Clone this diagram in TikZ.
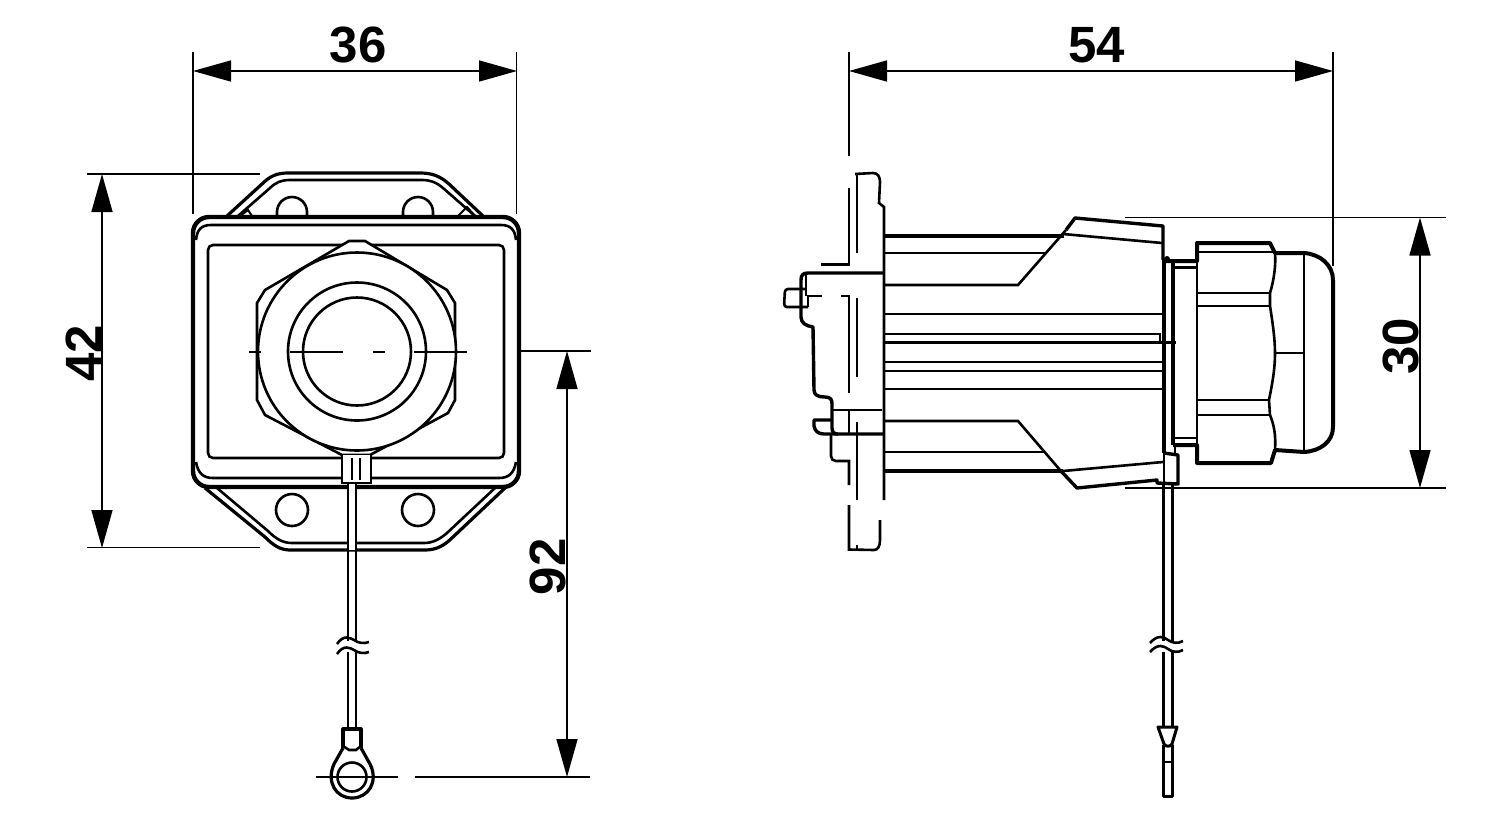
\documentclass[tikz,border=0pt]{standalone}
\usepackage{fontspec}
\setmainfont{Liberation Sans}
\usetikzlibrary{arrows.meta}
\tikzset{
  dimline/.style={line width=1.6pt,{Triangle[length=38pt,width=21pt]}-{Triangle[length=38pt,width=21pt]}},
  extline/.style={line width=1.6pt},
  dimtext/.style={inner sep=0pt,font=\fontsize{51}{51}\selectfont\bfseries},
  thinedge/.style={line width=2pt},
  midedge/.style={line width=2.6pt},
  thickedge/.style={line width=4pt,line join=round},
}
\begin{document}
\begin{tikzpicture}[x=1pt,y=-1pt]
    \useasboundingbox (0,0) rectangle (1500,820);
    % left view
    \coordinate (wl) at (193,71);
    \coordinate (wr) at (517,71);
    \coordinate (ht) at (102,174);
    \coordinate (hb) at (102,548);
    \coordinate (lt) at (567,351);
    \coordinate (lb) at (567,777);
    \draw[extline] (193,52) -- (193,214);
    \draw[extline] (516.5,52) -- (516.5,214);
    \draw[extline] (87,174) -- (260,174);
    \draw[extline] (87,547.5) -- (260,547.5);
    \draw[extline] (520,351) -- (591,351);
    \draw[extline] (415,777) -- (590,777);
    \draw[dimline] (wl) -- (wr) node[dimtext,pos=.51,above=7pt] (lblA) {36};
    \draw[dimline] (ht) -- (hb) node[dimtext,pos=.5,above=8pt,rotate=90] (lblB) {42};
    \draw[dimline] (lt) -- (lb) node[dimtext,pos=.525,above=8pt,rotate=90] (lblC) {92};

    % lugs
    \draw[thickedge,line width=3.2pt] (227,216) -- (262,184) .. controls (270,176) and (277,173) .. (288,173) -- (420,173) .. controls (432,173) and (440,176) .. (449,184) -- (483,216);
    \draw[midedge] (238,216) -- (270,188) .. controls (276,182) and (282,180) .. (290,180) -- (422,180) .. controls (430,180) and (436,182) .. (443,188) -- (475,216);
    \draw[thinedge] (240,216) -- (248,210) -- (252,216);
    \draw[thinedge] (458,216) -- (467,207) -- (475,216);
    \draw[midedge] (277,216) -- (277,212) arc (180:360:15) -- (307,216);
    \draw[midedge] (403,216) -- (403,212) arc (180:360:15) -- (433,216);
    \draw[thickedge,line width=3.2pt] (205,488) -- (265,537) .. controls (273,545) and (280,550) .. (290,550) -- (425,550) .. controls (437,550) and (445,545) .. (453,537) -- (505,488);
    \draw[midedge] (217,488) -- (268,531) .. controls (276,539) and (283,543) .. (292,543) -- (424,543) .. controls (433,543) and (440,539) .. (447,533) -- (495,488);
    \draw[midedge] (292,510) circle (16);
    \draw[midedge] (418,510) circle (16);

    % housing
    \draw[thickedge,fill=white,line width=4.4pt,rounded corners=16pt] (193,217) rectangle (519,487);
    \draw[midedge] (196,240) .. controls (197,230) and (201,225) .. (211,225) -- (501,225) .. controls (511,225) and (515,230) .. (516,240);
    \draw[midedge] (196,462) .. controls (198,473) and (203,478) .. (213,478) -- (499,478) .. controls (509,478) and (514,473) .. (516,462);
    \draw[midedge,rounded corners=5pt] (208,245) rectangle (504,458);

    % gland
    \draw[midedge,fill=white] (349,241) -- (365,241) -- (447,290) -- (455,303) -- (455,400) -- (448,413) -- (370,455) -- (342,455) -- (265,415) -- (257,400) -- (257,303) -- (265,290) -- cycle;
    \draw[midedge,fill=white] (357,351.5) circle (99);
    \draw[midedge] (357,351.5) circle (69);
    \draw[midedge] (357,351.5) circle (54);
    \foreach \xa/\xb in {249/261,290/343,373/385,414/467}
      \draw[thinedge] (\xa,351.5) -- (\xb,351.5);

    % cable with ring
    \draw[midedge,fill=white] (342,455) -- (342,483) -- (371,483) -- (371,455);
    \draw[thinedge] (352,458) -- (352,480);
    \draw[thinedge] (360,458) -- (360,480);
    \fill[white] (348,484) rectangle (356,550);
    \draw[midedge] (348,483) -- (348,641);
    \draw[midedge] (356,483) -- (356,641);
    \draw[midedge] (348,652) -- (348,729);
    \draw[midedge] (356,652) -- (356,729);
    \draw[midedge] (337,644) .. controls (344,634) and (350,638) .. (354,640) .. controls (358,643) and (364,644) .. (369,642);
    \draw[midedge] (337,654) .. controls (344,644) and (350,648) .. (354,650) .. controls (358,653) and (364,654) .. (369,652);
    \draw[thickedge,line width=3.2pt] (343,748) -- (343,729) -- (361,729) -- (361,748);
    \draw[midedge] (343,746) -- (349,750) -- (356,750) -- (361,746);
    \draw[thickedge,line width=3.2pt] (343,748) -- (334,764) .. controls (326,782) and (336,798) .. (352,798) .. controls (368,798) and (379,782) .. (370,764) -- (361,748);
    \draw[midedge] (352,777) circle (14.5);
    \draw[thinedge] (316,777) -- (398,777);

    % right view
    \coordinate (sl) at (849,71);
    \coordinate (sr) at (1333,71);
    \coordinate (dt) at (1420,217.5);
    \coordinate (db) at (1420,488);
    \draw[extline] (849,52) -- (849,156);
    \draw[extline] (1333,52) -- (1333,266);
    \draw[extline] (1125,217.5) -- (1446,217.5);
    \draw[extline] (1125,488) -- (1446,488);
    \draw[dimline] (sl) -- (sr) node[dimtext,pos=.512,above=7pt] (lblD) {54};
    \draw[dimline] (dt) -- (db) node[dimtext,pos=.505,above=8pt,rotate=90] (lblE) {30};

    % flange
    \draw[midedge] (855,174) -- (873,173) .. controls (878,173) and (880,177) .. (880,182) -- (879,203) -- (884,207) -- (884,500);
    \draw[midedge] (857,174) -- (857,253);
    \draw[midedge] (849,188) -- (849,264.5) -- (821,264.5);
    \draw[midedge] (822,296) -- (808,296) -- (808,307);
    \draw[midedge] (841,296) -- (849,296) -- (849,393);
    \draw[midedge] (857,298) -- (857,377);
    \draw[midedge] (849,410) -- (849,434);
    \draw[midedge] (857,422) -- (857,500);
    \draw[midedge] (832,410) -- (882,410);
    \draw[midedge] (849,505) -- (849,549.5) -- (874,550) .. controls (878,550) and (880,546) .. (880,540) -- (880,520);
    \draw[midedge] (857,545) -- (857,550);
    \draw[midedge] (831,434) -- (831,456) .. controls (831,459) and (833,461) .. (836,461) -- (849,461) -- (849,485);
    \draw[midedge,rounded corners=3pt] (806,289) -- (785,289) -- (784,307) -- (808,307);
    \draw[thickedge,line width=3.4pt] (883,273) -- (808,273) .. controls (803,273) and (801,275) .. (801,280) -- (801,317) .. controls (801,323) and (806,326) .. (813,327) -- (814,390) .. controls (814,395) and (818,397) .. (825,397) .. controls (831,397) and (832,400) .. (832,404) -- (832,428) .. controls (832,432) and (834,434) .. (838,434) -- (883,434);
    \draw[midedge] (806,275) -- (806,296);
    \draw[thickedge,line width=3.4pt] (832,420) -- (814,420) -- (814,426) .. controls (815,431) and (818,434) .. (824,434) -- (838,434);

    % body
    \draw[thickedge,line width=3.4pt] (884,236) -- (1064,236);
    \draw[midedge] (884,253) -- (1045,253);
    \draw[midedge] (884,285) -- (1018,285) -- (1066,230);
    \draw[thickedge,line width=3.4pt] (1066,230) -- (1075,218) -- (1163,226) -- (1163,260);
    \draw[midedge] (1063,234) -- (1162,243);
    \draw[midedge] (884,314) -- (1163,314);
    \draw[midedge] (885,334) -- (1160,334) -- (1160,343);
    \draw[midedge] (884,342.5) -- (1176,342.5);
    \draw[midedge] (885,362) -- (1163,362);
    \draw[midedge] (885,371) -- (1163,371);
    \draw[midedge] (884,389) -- (1163,389);
    \draw[midedge] (884,421) -- (1018,421) -- (1060,470);
    \draw[midedge] (884,452) -- (1045,452);
    \draw[thickedge,line width=3.4pt] (884,471) -- (1063,471);
    \draw[midedge] (1063,471) -- (1163,462);
    \draw[thickedge,line width=3.4pt] (1060,470) -- (1077,488) -- (1157,480) -- (1157,483) -- (1178,484) -- (1178,455) -- (1164,453);
    \draw[midedge] (1164,453) -- (1164,484);

    % gland side
    \draw[thickedge] (1164,260) -- (1164,453);
    \draw[thickedge] (1173,263) -- (1173,445);
    \fill (1167,259) circle (3);
    \draw[thickedge] (1164,261) -- (1197,261) -- (1197,243) -- (1270,243) -- (1275,253) -- (1304,253) .. controls (1320,254) and (1333,265) .. (1333,280) -- (1333,427) .. controls (1333,442) and (1320,451) .. (1304,452) -- (1275,450) -- (1271,463) -- (1197,463) -- (1197,445) -- (1173,445);
    \draw[midedge] (1175,445) -- (1175,455);
    \draw[midedge] (1173,267.5) -- (1197,267.5);
    \draw[midedge] (1173,438) -- (1197,438);
    \draw[midedge] (1197,243) -- (1197,463);
    \draw[midedge] (1197,252) -- (1273,252);
    \draw[midedge] (1275,253) .. controls (1276,265) and (1274,280) .. (1270,293) -- (1270,306) .. controls (1273,325) and (1275,340) .. (1275,353) .. controls (1275,370) and (1272,385) .. (1269,400) -- (1270,415) .. controls (1274,425) and (1276,435) .. (1275,450);
    \draw[midedge] (1197,293) -- (1270,293);
    \draw[midedge] (1197,306) -- (1270,306);
    \draw[midedge] (1197,400) -- (1269,400);
    \draw[midedge] (1197,415) -- (1270,415);
    \draw[midedge] (1275,353) -- (1304,353);
    \draw[midedge] (1304,253) -- (1304,452);

    % cable with pin
    \draw[thickedge,line width=3pt] (1163,484) -- (1163,641);
    \draw[thickedge,line width=3pt] (1172,484) -- (1172,641);
    \draw[thickedge,line width=3pt] (1163,652) -- (1163,728);
    \draw[thickedge,line width=3pt] (1172,652) -- (1172,728);
    \draw[midedge] (1150,643) .. controls (1158,634) and (1164,637) .. (1168,640) .. controls (1172,643) and (1178,644) .. (1183,641);
    \draw[midedge] (1150,652) .. controls (1158,643) and (1164,646) .. (1168,649) .. controls (1172,652) and (1178,653) .. (1183,650);
    \draw[thickedge,line width=3pt] (1158,727) -- (1177,727) -- (1172,744) .. controls (1170,747) and (1166,747) .. (1164,744) -- cycle;
    \draw[thickedge,line width=3pt] (1163,745) -- (1163,796.5) -- (1172,796.5) -- (1172,745);
    \draw[thinedge] (1163,762) -- (1172,762);
\end{tikzpicture}
\end{document}
